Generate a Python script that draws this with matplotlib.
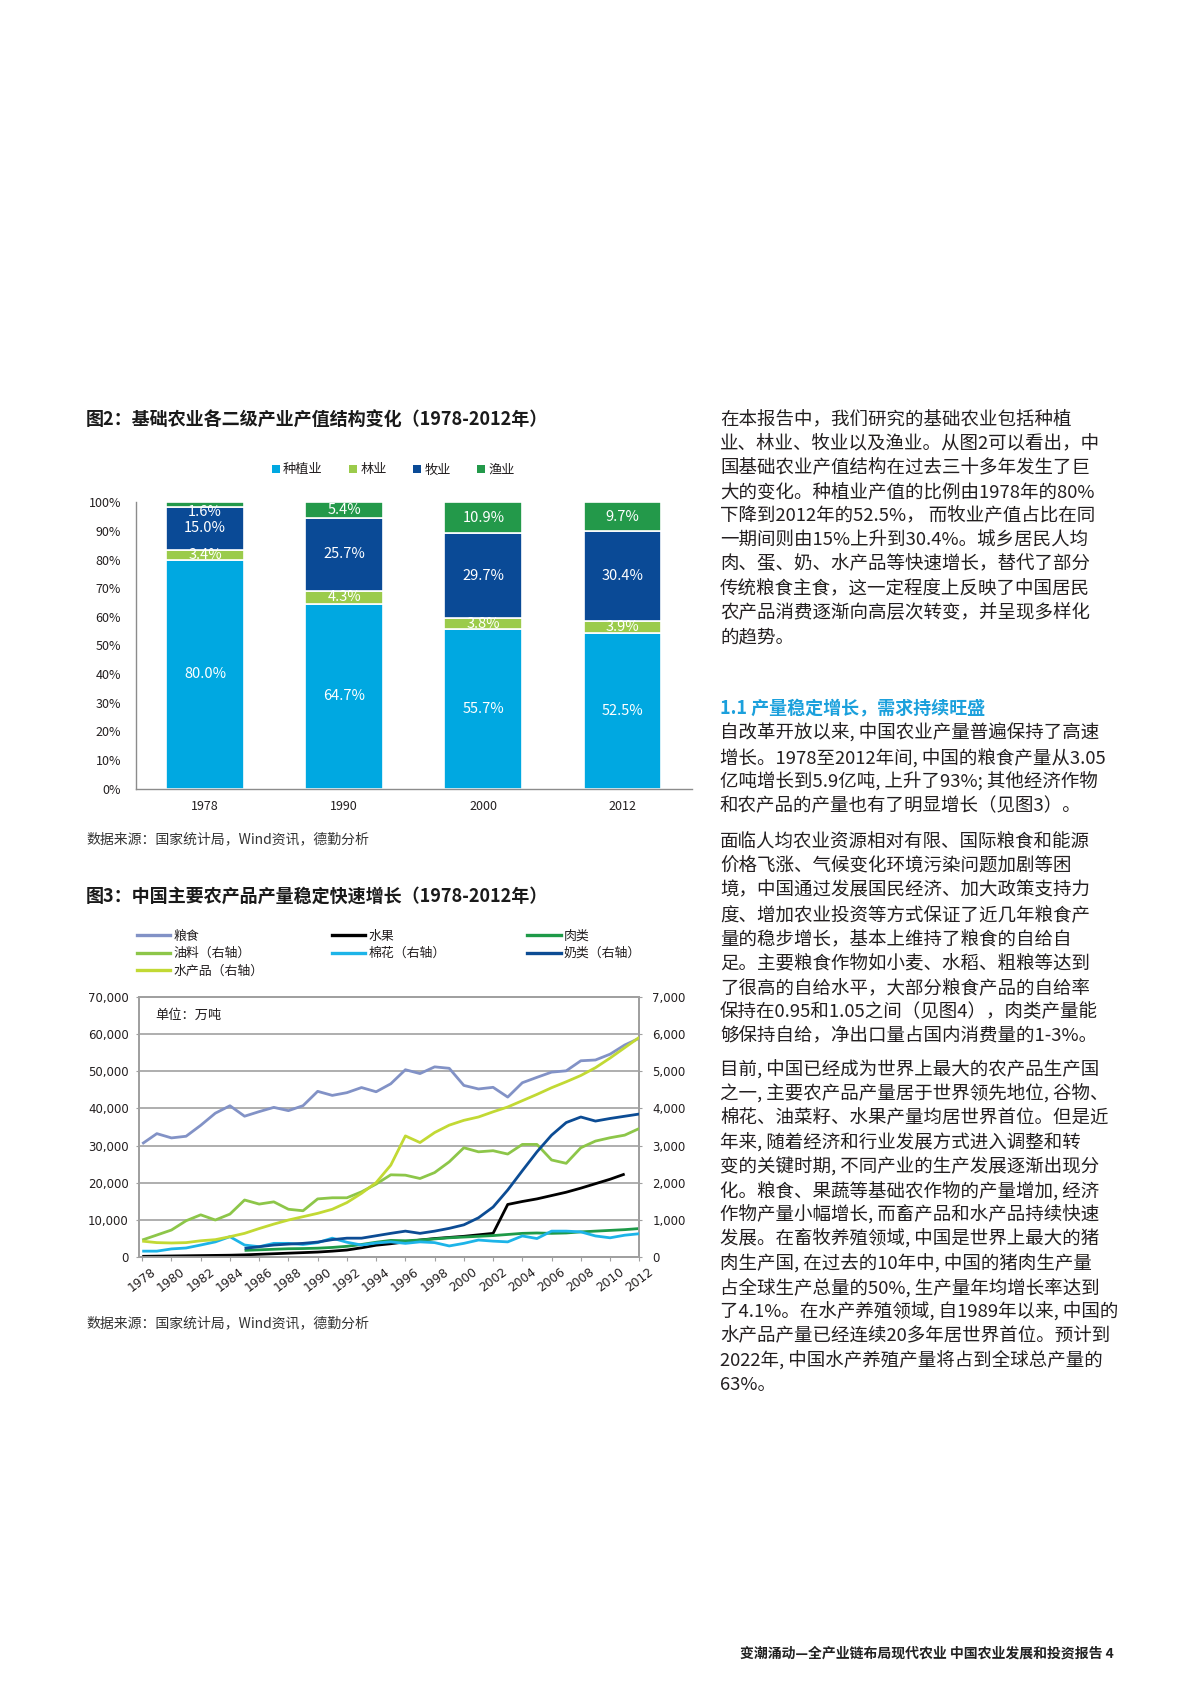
import numpy as np
import matplotlib
matplotlib.use("Agg")
import matplotlib.pyplot as plt
from matplotlib.patches import Patch
from matplotlib.lines import Line2D
from matplotlib.ticker import FuncFormatter, FixedLocator

plt.rcParams['font.family'] = ['Noto Sans CJK SC', 'DejaVu Sans']

W, H = 1200, 1698

# ---------------- data: figure 2 ----------------
bar_years = ['1978', '1990', '2000', '2012']
crop = [80.0, 64.7, 55.7, 52.5]
forest = [3.4, 4.3, 3.8, 3.9]
livestock = [15.0, 25.7, 29.7, 30.4]
fishery = [1.6, 5.4, 10.9, 9.7]
bar_names = ['种植业', '林业', '牧业', '渔业']
bar_colors = ['#00A8E1', '#9BCB4B', '#0A4A96', '#23994A']
pct_ticks = [0, 10, 20, 30, 40, 50, 60, 70, 80, 90, 100]

# ---------------- data: figure 3 ----------------
nan = np.nan
years = list(range(1978, 2013))
grain = [30477, 33212, 32056, 32502, 35450, 38728, 40731, 37911, 39151, 40298,
         39408, 40755, 44624, 43529, 44266, 45649, 44510, 46662, 50454, 49417,
         51230, 50839, 46218, 45264, 45706, 43070, 46947, 48402, 49804, 50160,
         52871, 53082, 54648, 57121, 58958]
fruit = [100, 150, 200, 250, 300, 350, 400, 500, 650, 800,
         950, 1100, 1250, 1500, 1800, 2400, 3100, 3500, 4000, 4500,
         4900, 5200, 5500, 5900, 6300, 14100, 14900, 15600, 16500, 17400,
         18500, 19700, 20900, 22300, nan]
meat = [nan] * 7 + [1700, 1850, 2000, 2150, 2200, 2300, 2500, 2800, 3300, 3900,
                    4400, 4300, 4500, 4800, 5100, 5300, 5500, 5700, 6000, 6300,
                    6400, 6300, 6400, 6700, 6900, 7100, 7300, 7600]
oil = [450, 585, 720, 970, 1130, 990, 1150, 1530, 1420, 1480,
       1280, 1240, 1560, 1590, 1590, 1750, 1960, 2210, 2200, 2110,
       2270, 2560, 2940, 2830, 2860, 2770, 3030, 3030, 2610, 2520,
       2940, 3120, 3210, 3280, 3460]
cotton = [150, 150, 210, 235, 315, 400, 540, 315, 270, 360,
          360, 330, 380, 500, 390, 315, 370, 400, 360, 400,
          380, 290, 360, 450, 420, 400, 560, 490, 690, 690,
          670, 560, 510, 580, 620]
milk = [nan] * 7 + [225, 270, 315, 340, 360, 395, 460, 500, 500, 565,
                    630, 690, 630, 690, 765, 860, 1050, 1340, 1800, 2320,
                    2830, 3280, 3620, 3770, 3660, 3730, 3790, 3850]
aquatic = [420, 380, 370, 380, 430, 460, 540, 630, 760, 880,
           990, 1080, 1170, 1280, 1460, 1710, 2000, 2470, 3260, 3080,
           3350, 3550, 3680, 3770, 3910, 4040, 4210, 4380, 4560, 4720,
           4890, 5100, 5360, 5640, 5920]
line_names = ['粮食', '水果', '肉类', '油料（右轴）', '棉花（右轴）', '奶类（右轴）', '水产品（右轴）']
line_colors = ['#8292C6', '#000000', '#1E9A48', '#8DC649', '#1DB4E8', '#0C4C94', '#C2D934']
left_ticks = [0, 10000, 20000, 30000, 40000, 50000, 60000, 70000]
right_ticks = [0, 1000, 2000, 3000, 4000, 5000, 6000, 7000]
year_labels = list(range(1978, 2013, 2))

# ---------------- text ----------------
title2 = '图2：基础农业各二级产业产值结构变化（1978-2012年）'
title3 = '图3：中国主要农产品产量稳定快速增长（1978-2012年）'
source = '数据来源：国家统计局，Wind资讯，德勤分析'
unit = '单位：万吨'
para1 = ['在本报告中，我们研究的基础农业包括种植',
         '业、林业、牧业以及渔业。从图2可以看出，中',
         '国基础农业产值结构在过去三十多年发生了巨',
         '大的变化。种植业产值的比例由1978年的80%',
         '下降到2012年的52.5%， 而牧业产值占比在同',
         '一期间则由15%上升到30.4%。城乡居民人均',
         '肉、蛋、奶、水产品等快速增长，替代了部分',
         '传统粮食主食，这一定程度上反映了中国居民',
         '农产品消费逐渐向高层次转变，并呈现多样化',
         '的趋势。']
heading = '1.1 产量稳定增长，需求持续旺盛'
para2 = ['自改革开放以来, 中国农业产量普遍保持了高速',
         '增长。1978至2012年间, 中国的粮食产量从3.05',
         '亿吨增长到5.9亿吨, 上升了93%; 其他经济作物',
         '和农产品的产量也有了明显增长（见图3）。']
para3 = ['面临人均农业资源相对有限、国际粮食和能源',
         '价格飞涨、气候变化环境污染问题加剧等困',
         '境，中国通过发展国民经济、加大政策支持力',
         '度、增加农业投资等方式保证了近几年粮食产',
         '量的稳步增长，基本上维持了粮食的自给自',
         '足。主要粮食作物如小麦、水稻、粗粮等达到',
         '了很高的自给水平，大部分粮食产品的自给率',
         '保持在0.95和1.05之间（见图4），肉类产量能',
         '够保持自给，净出口量占国内消费量的1-3%。']
para4 = ['目前, 中国已经成为世界上最大的农产品生产国',
         '之一, 主要农产品产量居于世界领先地位, 谷物、',
         '棉花、油菜籽、水果产量均居世界首位。但是近',
         '年来, 随着经济和行业发展方式进入调整和转',
         '变的关键时期, 不同产业的生产发展逐渐出现分',
         '化。粮食、果蔬等基础农作物的产量增加, 经济',
         '作物产量小幅增长, 而畜产品和水产品持续快速',
         '发展。在畜牧养殖领域, 中国是世界上最大的猪',
         '肉生产国, 在过去的10年中, 中国的猪肉生产量',
         '占全球生产总量的50%, 生产量年均增长率达到',
         '了4.1%。在水产养殖领域, 自1989年以来, 中国的',
         '水产品产量已经连续20多年居世界首位。预计到',
         '2022年, 中国水产养殖产量将占到全球总产量的',
         '63%。']
footer = '变潮涌动—全产业链布局现代农业 中国农业发展和投资报告 4'


def fx(x):
    return x / W


def fy(y):
    return 1 - y / H


def axes_box(l, r, t, b):
    return [fx(l), fy(b), (r - l) / W, (b - t) / H]


fig = plt.figure(figsize=(W / 100, H / 100), dpi=100)
fig.patch.set_facecolor('white')

TXT = '#231F20'

# ================= Figure 2: stacked bars =================
ax1 = fig.add_axes(axes_box(135.6, 692, 502.3, 788.5))
series = [crop, forest, livestock, fishery]
totals = np.sum(np.array(series), axis=0)
x = np.arange(len(bar_years))
bottom = np.zeros(len(bar_years))
for si, (vals, col) in enumerate(zip(series, bar_colors)):
    share = np.array(vals) / totals
    bars = ax1.bar(x, share, 0.56, bottom=bottom, color=col,
                   edgecolor='white', linewidth=1.2, zorder=2)
    for i, (b, v) in enumerate(zip(bars, vals)):
        yc = bottom[i] + share[i] / 2
        if share[i] < 0.02:
            yc = bottom[i] - 0.017
        t = ax1.text(x[i], yc, f'{v:.1f}%', ha='center', va='center',
                     color='white', fontsize=10.5, zorder=3)
        if si == 1:
            t.set_clip_path(b)
    bottom = bottom + share

ax1.set_xlim(-0.5, 3.5)
ax1.set_ylim(0, 1)
ax1.set_xticks(x)
ax1.set_xticklabels(bar_years)
ax1.yaxis.set_major_locator(FixedLocator([v / 100 for v in pct_ticks]))
ax1.yaxis.set_major_formatter(FuncFormatter(lambda v, p: f'{v * 100:.0f}%'))
ax1.tick_params(axis='x', length=0, pad=8, labelsize=9, colors=TXT)
ax1.tick_params(axis='y', length=0, pad=10.5, labelsize=9, colors=TXT)
for s in ['top', 'right']:
    ax1.spines[s].set_visible(False)
for s in ['left', 'bottom']:
    ax1.spines[s].set_color('#8C8C8C')
    ax1.spines[s].set_linewidth(1.0)

handles = [Patch(facecolor=c, edgecolor='none') for c in bar_colors]
fig.legend(handles, bar_names, loc='center left',
           bbox_to_anchor=(fx(271.7), fy(470)), ncol=4, frameon=False,
           fontsize=9.5, handlelength=0.6, handleheight=0.6,
           handletextpad=0.25, columnspacing=2.0, borderpad=0,
           borderaxespad=0, labelcolor=TXT)

fig.text(fx(86), fy(420), title2, fontsize=13, fontweight='bold',
         ha='left', va='center', color='#1A1A1A')
fig.text(fx(86), fy(839.5), source, fontsize=10, ha='left', va='center',
         color='#333333')

# ================= Figure 3: lines =================
ax2 = fig.add_axes(axes_box(139.3, 639.3, 997.3, 1256.7))
ax3 = ax2.twinx()
left_series = [grain, fruit, meat]
right_series = [oil, cotton, milk, aquatic]
for vals, col in zip(left_series, line_colors[:3]):
    ax2.plot(years, vals, color=col, lw=2.0, solid_capstyle='butt', zorder=3)
for vals, col in zip(right_series, line_colors[3:]):
    ax3.plot(years, vals, color=col, lw=2.0, solid_capstyle='butt', zorder=3)

ax2.set_xlim(1977.8, 2012)
ax2.set_ylim(0, 70000)
ax3.set_ylim(0, 7000)
ax2.set_yticks(left_ticks)
ax3.set_yticks(right_ticks)
ax2.yaxis.set_major_formatter(FuncFormatter(lambda v, p: f'{v:,.0f}'))
ax3.yaxis.set_major_formatter(FuncFormatter(lambda v, p: f'{v:,.0f}'))
ax2.set_xticks(year_labels)
ax2.set_xticklabels([str(y) for y in year_labels], rotation=37,
                    ha='center', family='DejaVu Sans')
ax2.grid(axis='y', color='#A8A8A8', lw=1.3, zorder=0)
ax2.set_axisbelow(True)
ax2.tick_params(axis='x', length=3, pad=3, labelsize=8.8, colors=TXT,
                color='#A0A0A0')
ax2.tick_params(axis='y', length=2, pad=5.5, labelsize=8.5, colors=TXT,
                color='#A0A0A0')
ax3.tick_params(axis='y', length=2, pad=7.5, labelsize=8.5, colors=TXT,
                color='#A0A0A0')
for lab in ax2.get_yticklabels() + ax3.get_yticklabels():
    lab.set_family('DejaVu Sans')
for a in (ax2, ax3):
    for s in a.spines.values():
        s.set_color('#A0A0A0')
        s.set_linewidth(1.3)

col_groups = [[0, 3, 6], [1, 4], [2, 5]]
col_x = [136.7, 331.7, 527.0]
for grp, cx in zip(col_groups, col_x):
    hs = [Line2D([0], [0], color=line_colors[k], lw=2.4) for k in grp]
    fig.legend(hs, [line_names[k] for k in grp], loc='upper left',
               bbox_to_anchor=(fx(cx), fy(929.5)), frameon=False,
               fontsize=9.3, handlelength=2.6, handletextpad=0.25,
               labelspacing=0.35, borderpad=0, borderaxespad=0,
               labelcolor=TXT)

fig.text(fx(155), fy(1015), unit, fontsize=9.5, ha='left', va='center',
         color=TXT)
fig.text(fx(86), fy(896), title3, fontsize=13, fontweight='bold',
         ha='left', va='center', color='#1A1A1A')
fig.text(fx(86), fy(1323), source, fontsize=10, ha='left', va='center',
         color='#333333')

# ================= Right column text =================
BODY = 13.3
LX = 720


def para(lines_, y0, step):
    for i, s in enumerate(lines_):
        fig.text(fx(LX), fy(y0 + i * step), s, fontsize=BODY, ha='left',
                 va='center', color=TXT)


para(para1, 419.7, 24.15)
fig.text(fx(LX), fy(708.3), heading, fontsize=13, fontweight='bold',
         ha='left', va='center', color='#1BA0DC')
para(para2, 733.3, 24.2)
para(para3, 841.7, 24.35)
para(para4, 1070, 24.2)

fig.text(fx(1114), fy(1653.3), footer, fontsize=10, fontweight='bold',
         ha='right', va='center', color='#222222')

fig.savefig('out.png', dpi=100, facecolor='white')
